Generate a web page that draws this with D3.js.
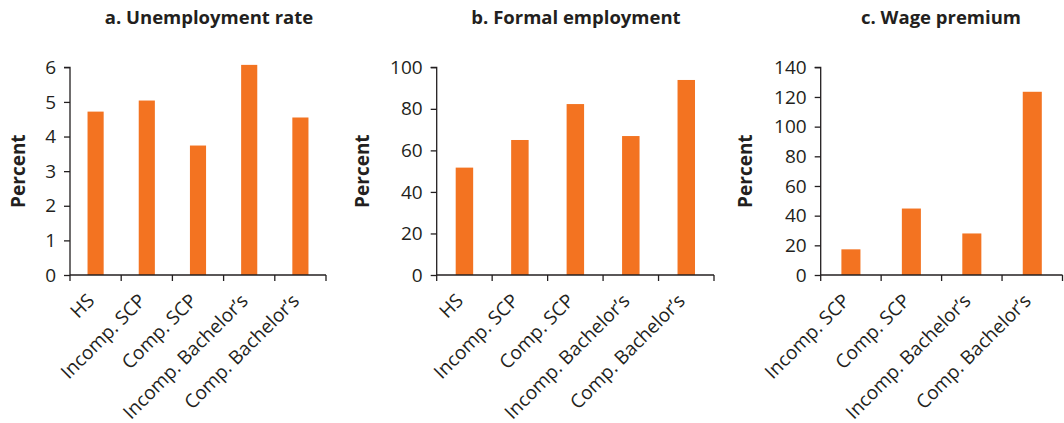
<!DOCTYPE html>
<html><head><meta charset="utf-8">
<script src="https://cdn.jsdelivr.net/npm/d3@7"></script>
<style>
body{margin:0;background:#fff;}
text{font-family:"Open Sans","Noto Sans",sans-serif;fill:#231f20;}
</style></head>
<body><svg id="c" width="1064" height="423"></svg>
<script>
const catsAB = ["HS","Incomp. SCP","Comp. SCP","Incomp. Bachelor’s","Comp. Bachelor’s"];
const catsC = ["Incomp. SCP","Comp. SCP","Incomp. Bachelor’s","Comp. Bachelor’s"];
const unemployment = [4.72, 5.04, 3.74, 6.07, 4.55];
const formal = [51.7, 65.0, 82.3, 66.9, 93.9];
const wage = [17.3, 44.8, 28.0, 123.5];
const ticksA = [0,1,2,3,4,5,6];
const ticksB = [0,20,40,60,80,100];
const ticksC = [0,20,40,60,80,100,120,140];
const titles = ["a. Unemployment rate","b. Formal employment","c. Wage premium"];

const svg = d3.select("#c");
const color = "#f37321";
const ink = "#231f20";

const panels = [
  {title:titles[0], cats:catsAB, vals:unemployment, ticks:ticksA, max:6, x0:70, x1:326, ylab:18, tx:209},
  {title:titles[1], cats:catsAB, vals:formal, ticks:ticksB, max:100, x0:436.7, x1:714, ylab:362, tx:576},
  {title:titles[2], cats:catsC, vals:wage, ticks:ticksC, max:140, x0:820.7, x1:1062.5, ylab:745, tx:941}
];
const yBot = 275, yTop = 67.3;

panels.forEach(p => {
  const g = svg.append("g");
  const x = d3.scaleBand().domain(p.cats).range([p.x0, p.x1]).paddingInner(0.685).paddingOuter(0.3425);
  const y = d3.scaleLinear().domain([0, p.max]).range([yBot, yTop]);

  g.selectAll("rect").data(p.vals).join("rect")
    .attr("x", (d,i) => x(p.cats[i]))
    .attr("width", x.bandwidth())
    .attr("y", d => y(d))
    .attr("height", d => yBot - y(d))
    .attr("fill", color);

  // y axis
  const ya = g.append("g").attr("transform", `translate(${p.x0},0)`)
    .call(d3.axisLeft(y).tickValues(p.ticks).tickSize(6).tickPadding(8).tickFormat(d3.format("d")));
  ya.select(".domain").attr("stroke", ink).attr("stroke-width", 1.3).attr("d", `M-6,${yTop}H0V${yBot}`);
  ya.selectAll(".tick line").attr("stroke", ink).attr("stroke-width", 1.3);
  ya.selectAll(".tick text").attr("font-size", 19).attr("fill", ink).attr("font-family", "Open Sans");

  // x axis: ticks at band boundaries
  const bounds = d3.range(p.cats.length + 1).map(i => p.x0 + i * (p.x1 - p.x0) / p.cats.length);
  g.append("line").attr("x1", p.x0).attr("x2", p.x1).attr("y1", yBot).attr("y2", yBot)
    .attr("stroke", ink).attr("stroke-width", 1.3);
  g.selectAll("line.xt").data(bounds).join("line").attr("class","xt")
    .attr("x1", d => d).attr("x2", d => d).attr("y1", yBot).attr("y2", yBot + 6)
    .attr("stroke", ink).attr("stroke-width", 1.3);

  g.selectAll("text.xl").data(p.cats).join("text").attr("class","xl")
    .attr("transform", d => `translate(${x(d) + x.bandwidth()/2},${yBot + 27}) rotate(-45)`)
    .attr("text-anchor", "end")
    .attr("font-size", 19)
    .text(d => d);

  g.append("text")
    .attr("transform", `translate(${p.ylab},${(yBot + yTop)/2}) rotate(-90)`)
    .attr("text-anchor", "middle").attr("dy", "0.35em")
    .attr("font-size", 19).attr("font-weight", "bold")
    .text("Percent");

  g.append("text").attr("x", p.tx).attr("y", 24).attr("text-anchor", "middle")
    .attr("font-size", 18.5).attr("font-weight", "bold").text(p.title);
});
</script></body></html>
